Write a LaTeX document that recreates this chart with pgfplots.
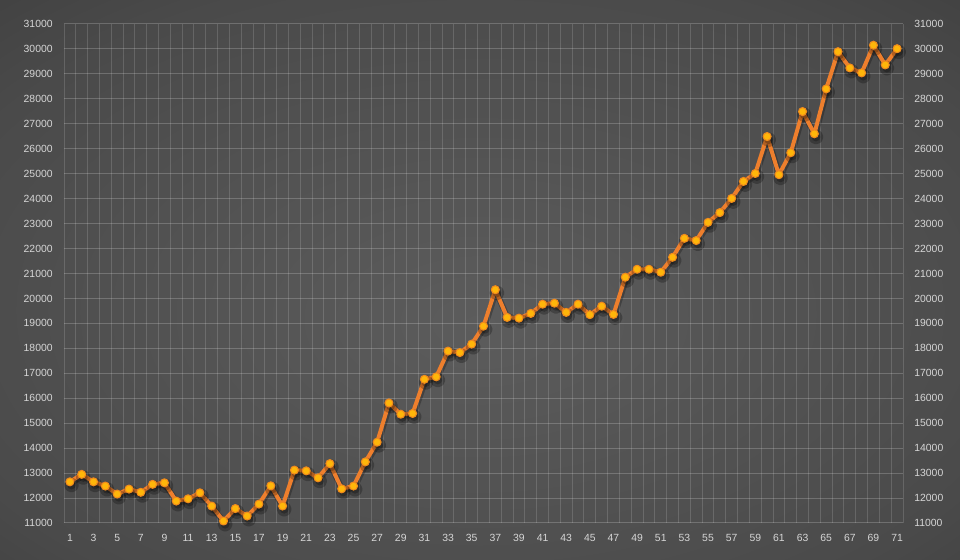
\documentclass[border=0pt]{standalone}
\usepackage{fontspec}
\setmainfont{Liberation Sans}
\usepackage{pgfplots}
\pgfplotsset{compat=1.18}
\definecolor{bgin}{HTML}{5C5C5C}
\definecolor{bgmid}{HTML}{4A4A4A}
\definecolor{bgout}{HTML}{1E1E1E}
\definecolor{lblc}{HTML}{D6D6D6}
\definecolor{lineor}{HTML}{EE7F2D}
\definecolor{markfill}{HTML}{FFB60A}
\definecolor{markdraw}{HTML}{F08A1C}
\pgfdeclareradialshading{bgshade}{\pgfpoint{0bp}{-4bp}}{color(0bp)=(bgin); color(30bp)=(bgmid); color(71bp)=(bgout)}
\begin{document}
\begin{tikzpicture}
\shade[shading=bgshade] (0,0) rectangle (720pt,420pt);
\pgfplotsset{
  common/.style={
    scale only axis, width=629.25pt, height=374.25pt,
    at={(48pt,27.75pt)}, anchor=south west,
    xmin=0.5, xmax=71.5, ymin=11000, ymax=31000,
    axis line style={draw=none},
    major tick length=0pt, minor tick length=0pt,
    tick label style={font=\fontsize{7.8pt}{9pt}\selectfont, text=lblc},
    /pgf/number format/assume math mode=true,
    scaled y ticks=false,
    yticklabel={\pgfmathprintnumber[fixed,precision=0,1000 sep={}]{\tick}},
    ytick={11000,12000,...,31000},
  }
}
\begin{axis}[common,
  xtick={1,3,...,71},
  minor xtick={0.5,1.5,...,71.5},
  xminorgrids=true, ymajorgrids=true,
  minor x grid style={draw=white, opacity=0.15, line width=0.75pt},
  major y grid style={draw=white, opacity=0.2, line width=0.75pt},
  xticklabel style={yshift=-5pt},
  yticklabel style={xshift=-5pt},
]
\addplot[draw=black, opacity=0.25, line width=4.5pt, line join=round, transform canvas={xshift=0.6pt,yshift=-1.2pt}, mark=*, mark size=3.3pt, mark options={fill=black, draw=none}] table {
x y
1 12650
2 12950
3 12650
4 12480
5 12160
6 12360
7 12230
8 12550
9 12610
10 11880
11 11970
12 12210
13 11680
14 11080
15 11580
16 11280
17 11760
18 12490
19 11680
20 13120
21 13090
22 12810
23 13380
24 12370
25 12480
26 13450
27 14240
28 15810
29 15360
30 15390
31 16760
32 16860
33 17890
34 17830
35 18170
36 18890
37 20350
38 19240
39 19210
40 19400
41 19770
42 19810
43 19440
44 19770
45 19350
46 19690
47 19360
48 20850
49 21170
50 21170
51 21050
52 21650
53 22410
54 22320
55 23050
56 23440
57 24010
58 24690
59 25010
60 26490
61 24960
62 25840
63 27490
64 26600
65 28400
66 29890
67 29240
68 29040
69 30150
70 29360
71 30010
};
\addplot[draw=lineor, line width=3pt, line join=round, mark=*, mark size=3pt, mark options={fill=markfill, draw=markdraw, line width=0.8pt}] table {
x y
1 12650
2 12950
3 12650
4 12480
5 12160
6 12360
7 12230
8 12550
9 12610
10 11880
11 11970
12 12210
13 11680
14 11080
15 11580
16 11280
17 11760
18 12490
19 11680
20 13120
21 13090
22 12810
23 13380
24 12370
25 12480
26 13450
27 14240
28 15810
29 15360
30 15390
31 16760
32 16860
33 17890
34 17830
35 18170
36 18890
37 20350
38 19240
39 19210
40 19400
41 19770
42 19810
43 19440
44 19770
45 19350
46 19690
47 19360
48 20850
49 21170
50 21170
51 21050
52 21650
53 22410
54 22320
55 23050
56 23440
57 24010
58 24690
59 25010
60 26490
61 24960
62 25840
63 27490
64 26600
65 28400
66 29890
67 29240
68 29040
69 30150
70 29360
71 30010
};
\end{axis}
\begin{axis}[common,
  xtick=\empty,
  yticklabel pos=right,
  yticklabel style={xshift=5pt},
]
\end{axis}
\end{tikzpicture}
\end{document}
